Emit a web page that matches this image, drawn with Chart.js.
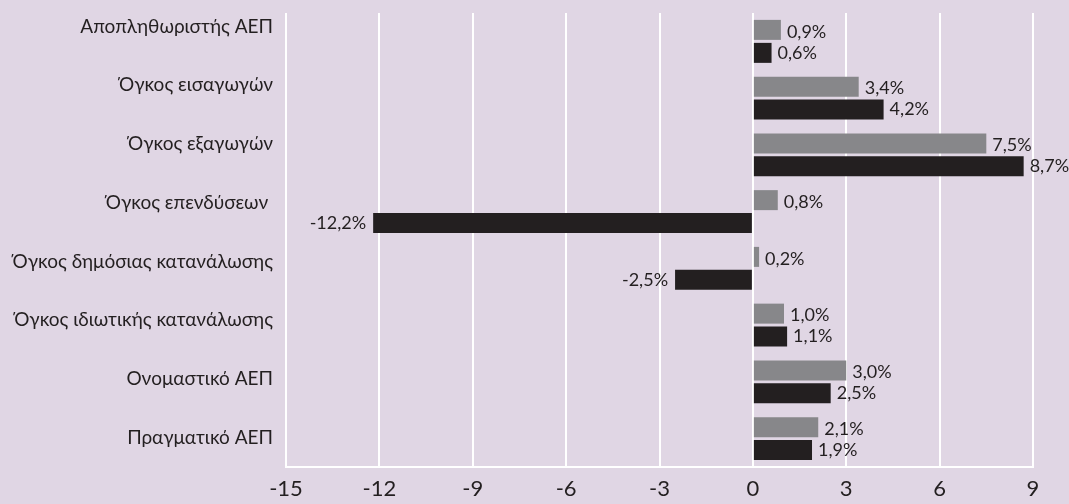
<!DOCTYPE html>
<html>
<head>
<meta charset="utf-8">
<script src="https://cdn.jsdelivr.net/npm/chart.js@4.4.0/dist/chart.umd.min.js"></script>
<style>
  html, body { margin: 0; padding: 0; background: #e0d6e4; }
  #wrap { width: 1069px; height: 504px; }
</style>
</head>
<body>
<div id="wrap"><canvas id="bar-chart" width="1069" height="504"></canvas></div>
<script>
let categories = ["Αποπληθωριστής ΑΕΠ", "Όγκος εισαγωγών", "Όγκος εξαγωγών", "Όγκος επενδύσεων ",
    "Όγκος δημόσιας κατανάλωσης", "Όγκος ιδιωτικής κατανάλωσης", "Ονομαστικό ΑΕΠ", "Πραγματικό ΑΕΠ"];
let greySeries = [0.9, 3.4, 7.5, 0.8, 0.2, 1.0, 3.0, 2.1];
let blackSeries = [0.6, 4.2, 8.7, -12.2, -2.5, 1.1, 2.5, 1.9];
let xTicks = [-15, -12, -9, -6, -3, 0, 3, 6, 9];

const textColor = '#231f20';
const fontFam = 'Lato, "Open Sans", sans-serif';

// value labels at the end of each bar, greek decimal comma
let barLabels = {
    id: 'barLabels',
    afterDatasetsDraw(chart){
        let ctx = chart.ctx;
        ctx.save();
        ctx.font = '18px ' + fontFam;
        ctx.fillStyle = textColor;
        ctx.textBaseline = 'middle';
        chart.data.datasets.forEach((ds, di) => {
            chart.getDatasetMeta(di).data.forEach((bar, i) => {
                let v = ds.data[i];
                let txt = v.toFixed(1).replace('.', ',') + '%';
                let dy = di == 0 ? 2 : 0;
                if(v >= 0){
                    ctx.textAlign = 'left';
                    ctx.fillText(txt, bar.x + 6, bar.y + dy);
                } else {
                    ctx.textAlign = 'right';
                    ctx.fillText(txt, bar.x - 7, bar.y + dy);
                }
            });
        });
        ctx.restore();
    }
};

// category names: in the original they drift a bit upward toward the top row
let catLabels = {
    id: 'catLabels',
    afterDraw(chart){
        let ctx = chart.ctx, y = chart.scales.y, n = categories.length;
        let top = y.getPixelForValue(0) - 15;
        let bottom = y.getPixelForValue(n - 1) - 1;
        ctx.save();
        ctx.font = '19px ' + fontFam;
        ctx.fillStyle = textColor;
        ctx.textAlign = 'right';
        ctx.textBaseline = 'middle';
        categories.forEach((c, i) => {
            ctx.fillText(c, y.right - 13, top + (bottom - top) * i / (n - 1));
        });
        ctx.restore();
    }
};

new Chart(document.querySelector('#bar-chart'), {
    type: 'bar',
    data: {
        labels: categories,
        datasets: [
            { label: 'a', data: greySeries, backgroundColor: '#87878a', barPercentage: 0.87, categoryPercentage: 0.81 },
            { label: 'b', data: blackSeries, backgroundColor: '#231f20', barPercentage: 0.87, categoryPercentage: 0.81 }
        ]
    },
    options: {
        indexAxis: 'y',
        responsive: false,
        animation: false,
        layout: { padding: { left: 0, right: 36, top: 13, bottom: 0 } },
        plugins: { legend: { display: false }, tooltip: { enabled: false } },
        scales: {
            x: {
                min: -15, max: 9,
                afterBuildTicks: s => { s.ticks = xTicks.map(v => ({ value: v })); },
                afterFit: s => { s.height = 37; },
                grid: { color: '#ffffff', lineWidth: 2, drawTicks: false },
                border: { color: '#ffffff', width: 2 },
                ticks: { color: textColor, padding: 9, font: { family: fontFam, size: 22 } }
            },
            y: {
                afterFit: s => { s.width = 286; s.paddingTop = 0; s.paddingBottom = 0; },
                grid: { display: false, drawTicks: false },
                border: { display: false },
                ticks: { display: false }
            }
        }
    },
    plugins: [barLabels, catLabels]
});
</script>
</body>
</html>
